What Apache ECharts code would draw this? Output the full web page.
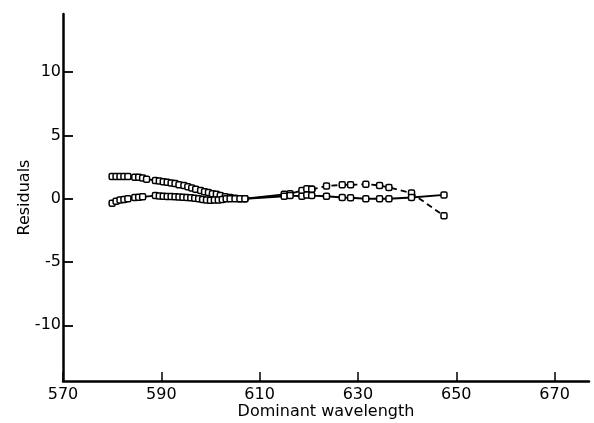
<!DOCTYPE html>
<html>
<head>
<meta charset="utf-8">
<script src="https://cdn.jsdelivr.net/npm/echarts@6/dist/echarts.min.js"></script>
<style>html,body{margin:0;padding:0;background:#fff}#c{width:594px;height:423px}</style>
</head>
<body>
<div id="c"></div>
<script>
var xTicks = [570, 590, 610, 630, 650, 670];
var yTicks = [-10, -5, 0, 5, 10];

var upperX = [580.0,580.8,581.6,582.4,583.2,584.6,585.4,586.2,587.0,588.8,589.6,590.4,591.2,592.0,592.8,593.6,594.6,595.4,596.2,597.0,598.0,598.8,599.6,600.4,601.2,602.0,603.0,604.0,605.0,606.0,607.0,615.0,616.2,618.6,619.6,620.6];
var upperY = [1.75,1.75,1.75,1.75,1.75,1.7,1.7,1.65,1.55,1.45,1.4,1.35,1.3,1.25,1.2,1.1,1.05,0.95,0.85,0.75,0.65,0.55,0.5,0.4,0.35,0.25,0.15,0.1,0.05,0,0,0.35,0.4,0.65,0.8,0.75];

var dashedX = [620.6,623.6,626.8,628.5,631.6,634.4,636.3,640.9,647.5];
var dashedY = [0.75,1.0,1.1,1.1,1.15,1.05,0.9,0.45,-1.35];

var lowerX = [580.0,580.8,581.6,582.4,583.2,584.6,585.4,586.2,588.8,589.6,590.4,591.2,592.0,592.8,593.6,594.4,595.2,596.0,596.8,597.6,598.4,599.2,600.0,600.8,601.6,602.4,603.2,604.0,605.0,606.0,607.0,615.0,616.2,618.6,619.6,620.6,623.6,626.8,628.5,631.6,634.4,636.3,640.9,647.5];
var lowerY = [-0.35,-0.2,-0.1,-0.05,0,0.1,0.12,0.15,0.25,0.22,0.2,0.18,0.17,0.15,0.13,0.12,0.1,0.08,0.05,0.0,-0.05,-0.1,-0.12,-0.1,-0.1,-0.05,0,0,0,0,0,0.2,0.25,0.2,0.3,0.25,0.2,0.1,0.08,0.0,0.0,0.0,0.1,0.3];

function zip(a, b) { return a.map(function (v, i) { return [v, b[i]]; }); }

var font = 'DejaVu Sans';
var markerStyle = { color: '#fff', borderColor: '#000', borderWidth: 1.5 };

var chart = echarts.init(document.getElementById('c'), null, { renderer: 'canvas' });
chart.setOption({
  animation: false,
  backgroundColor: '#fff',
  grid: { left: 63, right: 5, top: 14, bottom: 42, outerBoundsMode: 'none', containLabel: false },
  xAxis: {
    type: 'value', min: 570, max: 677,
    name: 'Dominant wavelength', nameLocation: 'middle', nameGap: 23, nameMoveOverlap: false,
    nameTextStyle: { fontFamily: font, fontSize: 16, color: '#000', verticalAlign: 'top' },
    axisLine: { onZero: false, lineStyle: { color: '#000', width: 2.5 } },
    axisTick: { inside: true, length: 9, customValues: xTicks, lineStyle: { color: '#000', width: 1.5 } },
    axisLabel: { customValues: xTicks, margin: 6, fontFamily: font, fontSize: 16, color: '#000' },
    splitLine: { show: false }
  },
  yAxis: {
    type: 'value', min: -14.4, max: 14.6,
    name: 'Residuals', nameLocation: 'middle', nameGap: 30, nameRotate: 90, nameMoveOverlap: false,
    nameTextStyle: { fontFamily: font, fontSize: 16, color: '#000' },
    axisLine: { onZero: false, lineStyle: { color: '#000', width: 2.5 } },
    axisTick: { inside: true, length: 10, customValues: yTicks, lineStyle: { color: '#000', width: 1.8 } },
    axisLabel: { customValues: yTicks, margin: 2, fontFamily: font, fontSize: 16, color: '#000' },
    splitLine: { show: false }
  },
  series: [
    { type: 'line', data: zip(upperX, upperY), symbol: 'roundRect', symbolSize: 6, showAllSymbol: true,
      lineStyle: { color: '#000', width: 1.8 }, itemStyle: markerStyle },
    { type: 'line', data: zip(dashedX, dashedY), symbol: 'roundRect', symbolSize: 6, showAllSymbol: true,
      lineStyle: { color: '#000', width: 1.8, type: [6, 4] }, itemStyle: markerStyle },
    { type: 'line', data: zip(lowerX, lowerY), symbol: 'roundRect', symbolSize: 6, showAllSymbol: true,
      lineStyle: { color: '#000', width: 1.8 }, itemStyle: markerStyle }
  ]
});
</script>
</body>
</html>
